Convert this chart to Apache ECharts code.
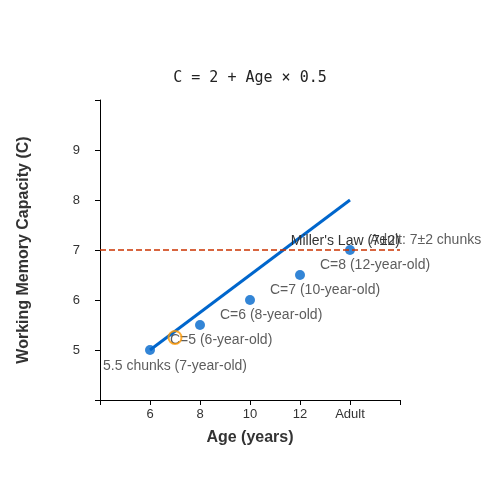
<!DOCTYPE html>
<html><head><meta charset="utf-8">
<script src="https://cdn.jsdelivr.net/npm/echarts@6/dist/echarts.min.js"></script>
</head><body style="margin:0">
<div id="chart" style="width:500px;height:500px"></div>
<script>
// ages (Adult plotted at 14)
var ages = [6, 8, 10, 12, 14];
var capacity = [5, 5.5, 6, 6.5, 7];
var pointLabels = ['C=5 (6-year-old)', 'C=6 (8-year-old)', 'C=7 (10-year-old)', 'C=8 (12-year-old)', 'Adult: 7±2 chunks'];
var fitX = [6, 14];
var fitY = [5, 8];
var highlight = [7, 5.25];
var highlightLabel = '5.5 chunks (7-year-old)';
var millerValue = 7;
var xTickLabels = { 6: '6', 8: '8', 10: '10', 12: '12', 14: 'Adult' };

var chart = echarts.init(document.getElementById('chart'));
var axisLine = { lineStyle: { color: '#000' } };
chart.setOption({
    animation: false,
    title: {
        text: 'C = 2 + Age × 0.5', left: 'center', top: 66,
        textStyle: { fontFamily: 'DejaVu Sans Mono', fontSize: 15, fontWeight: 'normal', color: '#222' }
    },
    grid: { left: 100, right: 100, top: 100, bottom: 100 },
    xAxis: {
        type: 'value', min: 4, max: 16, interval: 2,
        axisLine: axisLine, axisTick: { length: 5, lineStyle: { color: '#000' } },
        splitLine: { show: false },
        axisLabel: {
            color: '#333', fontSize: 13, fontFamily: 'Liberation Sans',
            formatter: function (v) { return xTickLabels[v] || ''; }
        },
        name: 'Age (years)', nameLocation: 'middle', nameGap: 30,
        nameTextStyle: { fontWeight: 'bold', fontSize: 16, color: '#333', fontFamily: 'Liberation Sans' }
    },
    yAxis: {
        type: 'value', min: 4, max: 10, interval: 1,
        axisLine: { show: true, lineStyle: { color: '#000' } },
        axisTick: { show: true, length: 5, lineStyle: { color: '#000' } },
        splitLine: { show: false },
        axisLabel: {
            color: '#333', fontSize: 13, fontFamily: 'Liberation Sans', margin: 20,
            formatter: function (v) { return (v >= 5 && v <= 9) ? String(v) : ''; }
        },
        name: 'Working Memory Capacity (C)', nameLocation: 'middle', nameGap: 68,
        nameTextStyle: { fontWeight: 'bold', fontSize: 16, color: '#333', fontFamily: 'Liberation Sans' }
    },
    series: [
        {
            type: 'line', data: fitX.map(function (x, i) { return [x, fitY[i]]; }),
            showSymbol: false, lineStyle: { color: '#0066cc', width: 3 }, z: 2,
            markLine: {
                symbol: 'none', silent: true,
                lineStyle: { color: '#cc3300', type: 'dashed', width: 1.5 },
                label: {
                    position: 'insideEndTop', formatter: "Miller's Law (7±2)",
                    color: '#333', fontSize: 14, fontFamily: 'Liberation Sans', distance: [0, 2]
                },
                data: [{ yAxis: millerValue }]
            }
        },
        {
            type: 'scatter', symbolSize: 10, itemStyle: { color: '#0066cc' }, z: 3,
            data: ages.map(function (x, i) { return [x, capacity[i]]; }),
            label: {
                show: true, position: 'right', offset: [10, -10],
                color: '#333', fontSize: 14, fontFamily: 'Liberation Sans',
                formatter: function (p) { return pointLabels[p.dataIndex]; }
            }
        },
        {
            type: 'scatter', symbolSize: 13, z: 4,
            itemStyle: { color: 'rgba(0,0,0,0)', borderColor: '#ff9900', borderWidth: 2 },
            data: [highlight],
            label: {
                show: true, position: 'bottom', distance: 14,
                color: '#333', fontSize: 14, fontFamily: 'Liberation Sans',
                formatter: highlightLabel
            }
        }
    ]
});
</script>
</body></html>
